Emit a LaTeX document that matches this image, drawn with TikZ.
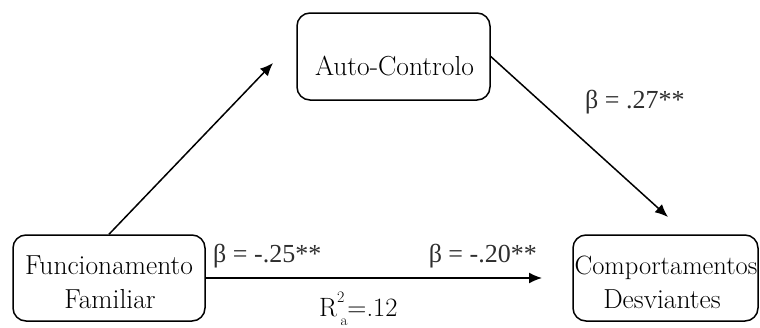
\documentclass[tikz,border=0pt]{standalone}
\usepackage{fontspec}
\newfontfamily\lblfont{Liberation Serif}
\usetikzlibrary{arrows.meta}
\definecolor{lblgray}{gray}{0.18}
\begin{document}
\begin{tikzpicture}[x=1pt,y=-1pt,
  box/.style={draw, line width=1.5pt, rounded corners=13pt, minimum width=#1, minimum height=86pt, inner sep=0pt},
  boxtext/.style={anchor=base, inner sep=0pt, font=\fontsize{27.5}{32}\selectfont},
  lbl/.style={inner sep=0pt, text=lblgray, font=\lblfont\fontsize{26}{30}\selectfont},
  rlbl/.style={inner sep=0pt, font=\fontsize{26.5}{30}\selectfont},
  arr/.style={line width=1.5pt, -{Latex[length=13pt,width=11pt]}}]
\useasboundingbox (0,0) rectangle (760,327);
% boxes
\node[box=193pt, minimum height=87pt] (A) at (393.5,56.5) {};
\node[boxtext] (A1) at (394.5,75) {Auto-Controlo};
\node[box=192pt] (F) at (109,278) {};
\node[boxtext] (F1) at (109,274) {Funcionamento};
\node[boxtext] (F2) at (110,308) {Familiar};
\node[box=185pt] (C) at (665.5,278) {};
\node[boxtext, font=\fontsize{26.5}{32}\selectfont] (C1) at (666,274) {Comportamentos};
\node[boxtext] (C2) at (662,308) {Desviantes};
% arrow ends
\coordinate (FAend) at (273,63);
\coordinate (ACend) at (668,217);
\coordinate (FCend) at (542,278);
\draw[arr] (F.north) -- (FAend);
\draw[arr] (A.east) -- (ACend);
\draw[arr] (F.east) -- (FCend);
% labels
\node[lbl, anchor=base west] (b1) at (213,262) {β = -.25**};
\node[lbl, anchor=base east] (b2) at (537,262) {β = -.20**};
\node[lbl, anchor=base west] (b3) at (585,108) {β = .27**};
\node[rlbl, anchor=base west] (r2) at (319,316) {R\raisebox{0.5em}{\fontsize{16}{16}\selectfont 2}\hspace{-4pt}\raisebox{-0.35em}{\fontsize{15}{15}\selectfont a}=.12};
\end{tikzpicture}
\end{document}
